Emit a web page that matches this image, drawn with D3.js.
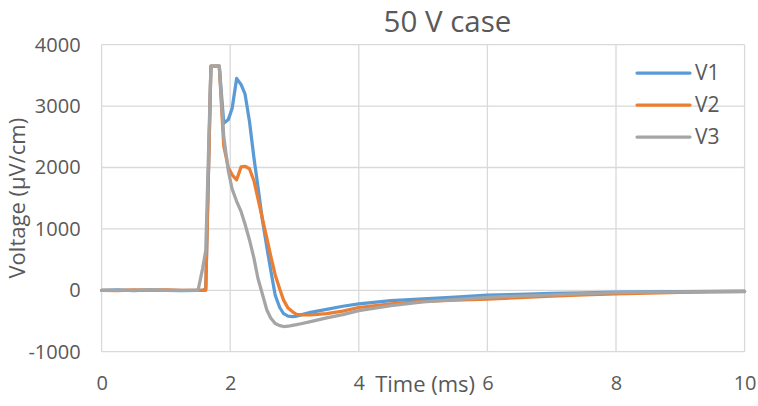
<!DOCTYPE html>
<html><head><meta charset="utf-8">
<script src="https://cdn.jsdelivr.net/npm/d3@7/dist/d3.min.js"></script>
<style>body{margin:0;background:#fff}svg{display:block}</style>
</head><body>
<svg id="c" width="758" height="406"></svg>
<script>
const title = "50 V case";
const xTitle = "Time (ms)";
const yTitle = "Voltage (µV/cm)";
const xTicks = [0, 2, 4, 6, 8, 10];
const yTicks = [-1000, 0, 1000, 2000, 3000, 4000];
const seriesNames = ["V1", "V2", "V3"];
const seriesColors = ["#5B9BD5", "#ED7D31", "#A5A5A5"];
const time = [0, 0.25, 0.5, 0.75, 1.0, 1.25, 1.5, 1.57, 1.62, 1.7, 1.77, 1.83, 1.9, 1.97, 2.03, 2.1, 2.17, 2.23, 2.3, 2.37, 2.43, 2.5, 2.57, 2.63, 2.7, 2.77, 2.83, 2.9, 2.97, 3.03, 3.1, 3.25, 3.5, 3.75, 4.0, 4.5, 5.0, 5.5, 6.0, 6.5, 7.0, 7.5, 8.0, 8.5, 9.0, 9.5, 10];
const v1 = [0, 5, -5, 8, 0, -5, 0, 0, 20, 3650, 3650, 3650, 2720, 2780, 2960, 3450, 3350, 3200, 2750, 2150, 1700, 1150, 700, 330, -80, -280, -380, -420, -430, -420, -400, -360, -310, -260, -220, -170, -140, -110, -80, -65, -50, -40, -30, -25, -20, -18, -15];
const v2 = [0, -5, 5, 0, 5, 0, 0, 0, 0, 3650, 3650, 3650, 2350, 2000, 1880, 1800, 2010, 2020, 1980, 1780, 1500, 1170, 850, 560, 250, 20, -160, -290, -350, -390, -400, -400, -380, -340, -280, -220, -180, -160, -145, -120, -95, -75, -58, -45, -35, -25, -20];
const v3 = [0, 0, 0, 5, 0, 0, 0, 350, 650, 3650, 3650, 3650, 2500, 1950, 1650, 1450, 1280, 1080, 820, 520, 200, -60, -320, -450, -540, -575, -590, -585, -570, -560, -545, -510, -450, -395, -330, -250, -190, -150, -115, -95, -75, -55, -38, -30, -25, -20, -18];
const seriesValues = [v1, v2, v3];

const font = "'Open Sans', 'Noto Sans', sans-serif";
const svg = d3.select("#c");
const x = d3.scaleLinear().domain([0, 10]).range([101.6, 744.6]);
const y = d3.scaleLinear().domain([-1000, 4000]).range([351.7, 44.7]);

// grid
const g = svg.append("g");
g.selectAll("line.h").data(yTicks).join("line")
  .attr("x1", x(0)).attr("x2", x(10))
  .attr("y1", d => y(d)).attr("y2", d => y(d))
  .attr("stroke", "#D9D9D9").attr("stroke-width", 1.3);
g.selectAll("line.v").data(xTicks).join("line")
  .attr("y1", y(-1000)).attr("y2", y(4000))
  .attr("x1", d => x(d)).attr("x2", d => x(d))
  .attr("stroke", "#D9D9D9").attr("stroke-width", 1.3);

// axes labels via d3 axes
const fmt = d => String(d);
const yAxis = svg.append("g").attr("transform", `translate(${x(0)},0)`)
  .call(d3.axisLeft(y).tickValues(yTicks).tickSize(0).tickPadding(21).tickFormat(fmt));
const xAxis = svg.append("g").attr("transform", `translate(0,${y(-1000)})`)
  .call(d3.axisBottom(x).tickValues(xTicks).tickSize(0).tickPadding(24).tickFormat(fmt));
[yAxis, xAxis].forEach(a => {
  a.select(".domain").remove();
  a.selectAll("text").attr("font-family", font).attr("font-size", 20).attr("fill", "#595959");
});

// lines
const line = d3.line().x((d, i) => x(time[i])).y(d => y(d));
seriesValues.forEach((vals, k) => {
  svg.append("path").datum(vals).attr("d", line)
    .attr("fill", "none").attr("stroke", seriesColors[k]).attr("stroke-width", 3.25)
    .attr("stroke-linejoin", "round").attr("stroke-linecap", "round");
});

// title
svg.append("text").attr("x", 447.5).attr("y", 32).attr("text-anchor", "middle")
  .attr("font-family", font).attr("font-size", 29.5).attr("fill", "#595959").text(title);
svg.append("text").attr("x", (x(0) + x(10)) / 2 + 2).attr("y", 392).attr("text-anchor", "middle")
  .attr("font-family", font).attr("font-size", 22).attr("fill", "#595959").text(xTitle);
svg.append("text").attr("transform", `translate(25,${(y(-1000) + y(4000)) / 2}) rotate(-90)`)
  .attr("text-anchor", "middle")
  .attr("font-family", font).attr("font-size", 22).attr("fill", "#595959").text(yTitle);

// legend
seriesNames.forEach((n, k) => {
  const ly = 73 + k * 32;
  svg.append("line").attr("x1", 637).attr("x2", 690).attr("y1", ly).attr("y2", ly)
    .attr("stroke", seriesColors[k]).attr("stroke-width", 3.25).attr("stroke-linecap", "round");
  svg.append("text").attr("x", 695).attr("y", ly + 7).attr("font-family", font).attr("font-size", 21)
    .attr("fill", "#595959").text(n);
});
</script>
</body></html>
